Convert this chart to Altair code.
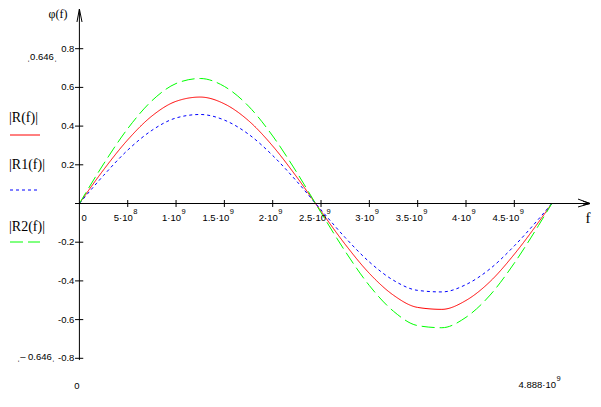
import altair as alt
import pandas as pd

# ---- data ----
freq = [0.0, 0.25e9, 0.5e9, 0.75e9, 1.0e9, 1.25e9, 1.5e9, 1.75e9, 2.0e9, 2.25e9, 2.5e9,
        2.75e9, 3.0e9, 3.25e9, 3.5e9, 3.75e9, 4.0e9, 4.25e9, 4.5e9, 4.75e9, 4.888e9]
R = [0, 0.174, 0.329, 0.452, 0.528, 0.550, 0.515, 0.428, 0.297, 0.136, -0.040,
     -0.211, -0.361, -0.474, -0.537, -0.547, -0.501, -0.403, -0.262, -0.097, 0]
R1 = [0, 0.145, 0.276, 0.378, 0.442, 0.460, 0.431, 0.358, 0.248, 0.114, -0.033,
      -0.176, -0.302, -0.397, -0.449, -0.457, -0.419, -0.337, -0.219, -0.081, 0]
R2 = [0, 0.204, 0.387, 0.531, 0.620, 0.646, 0.605, 0.503, 0.349, 0.160, -0.047,
      -0.247, -0.424, -0.557, -0.631, -0.642, -0.588, -0.473, -0.308, -0.114, 0]

x_ticks = [0.5e9, 1.0e9, 1.5e9, 2.0e9, 2.5e9, 3.0e9, 3.5e9, 4.0e9, 4.5e9]
x_tick_mant = ["5·10", "1·10", "1.5·10", "2·10", "2.5·10",
               "3·10", "3.5·10", "4·10", "4.5·10"]
x_tick_exp = ["8", "9", "9", "9", "9", "9", "9", "9", "9"]
y_ticks = [0.8, 0.6, 0.4, 0.2, 0.0, -0.2, -0.4, -0.6, -0.8]
y_tick_labels = ["0.8", "0.6", "0.4", "0.2", "", "-0.2", "-0.4", "-0.6", "-0.8"]

series_names = ["R", "R1", "R2"]
series_colors = ["#ff0000", "#0000ff", "#00ff00"]
series_dash = [[1, 0], [3, 3], [13, 5]]
legend_labels = ["|R(f)|", "|R1(f)|", "|R2(f)|"]

# ---- scales ----
xs = alt.Scale(domain=[-0.7387e9, 5.314e9], nice=False, zero=False)
ys = alt.Scale(domain=[-1.0103, 1.0103], nice=False, zero=False)
W, H = 585, 391
SANS = "Liberation Sans"
SERIF = "Liberation Serif"
FS = 9.5


def X(field):
    return alt.X(field, scale=xs, axis=None)


def Y(field):
    return alt.Y(field, scale=ys, axis=None)


layers = []

# curves
for name, vals, col, dash in zip(series_names, [R, R1, R2], series_colors, series_dash):
    df = pd.DataFrame({"f": freq, "v": vals})
    layers.append(
        alt.Chart(df).mark_line(color=col, strokeWidth=1, strokeDash=dash,
                                interpolate="monotone", clip=False)
        .encode(x=X("f:Q"), y=Y("v:Q"))
    )

# axis lines and arrows
seg_df = pd.DataFrame({
    "x1": [-0.04e9, 0.0, -0.025e9, 0.027e9, 5.159e9, 5.159e9, 5.21e9, 5.21e9],
    "x2": [5.283e9, 0.0, 0.0, 0.0, 5.283e9, 5.283e9, 5.283e9, 5.283e9],
    "y1": [0.0, -0.809, 0.938, 0.938, 0.023, -0.018, 0.012, -0.008],
    "y2": [0.0, 1.005, 1.005, 1.005, 0.0, 0.0, 0.0, 0.0],
})
layers.append(
    alt.Chart(seg_df).mark_rule(color="black", strokeWidth=1)
    .encode(x=X("x1:Q"), x2="x2:Q", y=Y("y1:Q"), y2="y2:Q")
)

# x ticks
n = len(x_ticks)
xt_df = pd.DataFrame({"f": x_ticks, "mant": x_tick_mant, "exp": x_tick_exp,
                      "t1": [0.018] * n, "t2": [-0.018] * n, "z": [0.0] * n})
layers.append(
    alt.Chart(xt_df).mark_rule(color="black", strokeWidth=1)
    .encode(x=X("f:Q"), y=Y("t1:Q"), y2="t2:Q")
)
layers.append(
    alt.Chart(xt_df).mark_text(font=SANS, fontSize=FS, align="right",
                               baseline="middle", dx=5, dy=14, color="black")
    .encode(x=X("f:Q"), y=Y("z:Q"), text="mant:N")
)
layers.append(
    alt.Chart(xt_df).mark_text(font=SANS, fontSize=7.5, align="left",
                               baseline="middle", dx=5.5, dy=8, color="black")
    .encode(x=X("f:Q"), y=Y("z:Q"), text="exp:N")
)
layers.append(
    alt.Chart(pd.DataFrame({"f": [0.0], "z": [0.0], "lab": ["0"]}))
    .mark_text(font=SANS, fontSize=FS, align="left", baseline="middle",
               dx=2, dy=14, color="black")
    .encode(x=X("f:Q"), y=Y("z:Q"), text="lab:N")
)

# y ticks
m = len(y_ticks)
yt_df = pd.DataFrame({"v": y_ticks, "lab": y_tick_labels,
                      "t1": [-0.045e9] * m, "t2": [0.04e9] * m, "z": [0.0] * m})
layers.append(
    alt.Chart(yt_df).mark_rule(color="black", strokeWidth=1)
    .encode(y=Y("v:Q"), x=X("t1:Q"), x2="t2:Q")
)
layers.append(
    alt.Chart(yt_df).mark_text(font=SANS, fontSize=FS, align="right",
                               baseline="middle", dx=-5, color="black")
    .encode(y=Y("v:Q"), x=X("z:Q"), text="lab:N")
)

# misc labels (page coords minus 8px margin)
misc_px = [34, 28, 69, 548, 580]
misc_py = [49, 349, 378, 377, 210]
misc_txt = ["ˌ0.646ˌ", "ˌ– 0.646ˌ", "0", "4.888·10", "f"]
misc_font = [SANS, SANS, SANS, SANS, SERIF]
misc_size = [FS, FS, FS, FS, 15]
misc_align = ["center", "center", "center", "right", "center"]
for px, py, txt, fnt, sz, al in zip(misc_px, misc_py, misc_txt, misc_font, misc_size, misc_align):
    layers.append(
        alt.Chart(pd.DataFrame({"t": [txt]}))
        .mark_text(font=fnt, fontSize=sz, align=al, baseline="middle", color="black")
        .encode(x=alt.value(px), y=alt.value(py), text="t:N")
    )
# exponent of the x-limit label
layers.append(
    alt.Chart(pd.DataFrame({"t": ["9"]}))
    .mark_text(font=SANS, fontSize=7.5, align="left", baseline="middle", color="black")
    .encode(x=alt.value(548.5), y=alt.value(371), text="t:N")
)
# y-axis title
layers.append(
    alt.Chart(pd.DataFrame({"t": ["φ(f)"]}))
    .mark_text(font=SERIF, fontSize=12, align="center", baseline="top", color="black")
    .encode(x=alt.value(50), y=alt.value(1), text="t:N")
)

# legend
leg_text_y = [110, 157, 219]
leg_line_y = [127, 182, 234]
for lab, col, dash, ty, ly in zip(legend_labels, series_colors, series_dash, leg_text_y, leg_line_y):
    layers.append(
        alt.Chart(pd.DataFrame({"t": [lab]}))
        .mark_text(font=SERIF, fontSize=14, align="left", baseline="middle", color="black")
        .encode(x=alt.value(1), y=alt.value(ty), text="t:N")
    )
    layers.append(
        alt.Chart(pd.DataFrame({"t": [lab]}))
        .mark_rule(color=col, strokeWidth=1, strokeDash=dash)
        .encode(x=alt.value(2), x2=alt.value(32), y=alt.value(ly))
    )

chart = alt.layer(*layers).properties(
    width=W, height=H, padding=0, autosize=alt.AutoSizeParams(type="none")
).configure_view(stroke=None)

chart.save("out.html", embed_options={"renderer": "svg", "actions": False})
